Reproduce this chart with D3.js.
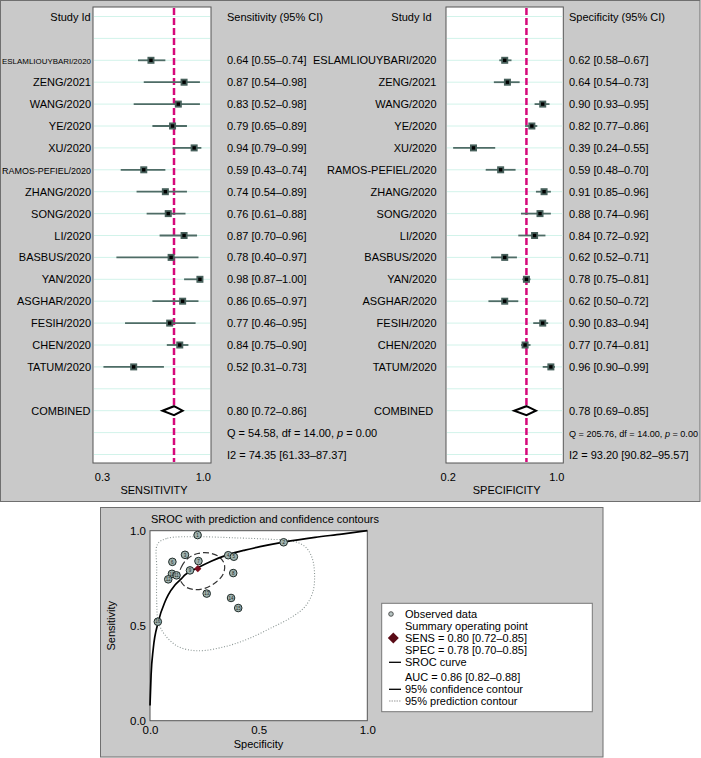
<!DOCTYPE html>
<html><head><meta charset="utf-8">
<script src="https://cdn.jsdelivr.net/npm/d3@7"></script>
<style>
body{margin:0;background:#fff}
svg{display:block;font-family:"Liberation Sans",Arial,Helvetica,sans-serif}
</style>
</head><body>
<svg id="c" width="701" height="758"></svg>
<script>
// ---------------- DATA ----------------
const studies = ["ESLAMLIOUYBARI/2020","ZENG/2021","WANG/2020","YE/2020","XU/2020","RAMOS-PEFIEL/2020","ZHANG/2020","SONG/2020","LI/2020","BASBUS/2020","YAN/2020","ASGHAR/2020","FESIH/2020","CHEN/2020","TATUM/2020"];
const sens   = [0.64,0.87,0.83,0.79,0.94,0.59,0.74,0.76,0.87,0.78,0.98,0.86,0.77,0.84,0.52];
const sensLo = [0.55,0.59,0.52,0.65,0.79,0.43,0.54,0.61,0.70,0.40,0.87,0.65,0.46,0.75,0.31];
const sensHi = [0.74,0.98,0.98,0.89,0.99,0.74,0.89,0.88,0.96,0.97,1.00,0.97,0.95,0.90,0.73];
const sensText = ["0.64 [0.55–0.74]","0.87 [0.54–0.98]","0.83 [0.52–0.98]","0.79 [0.65–0.89]","0.94 [0.79–0.99]","0.59 [0.43–0.74]","0.74 [0.54–0.89]","0.76 [0.61–0.88]","0.87 [0.70–0.96]","0.78 [0.40–0.97]","0.98 [0.87–1.00]","0.86 [0.65–0.97]","0.77 [0.46–0.95]","0.84 [0.75–0.90]","0.52 [0.31–0.73]"];
const spec   = [0.62,0.64,0.90,0.82,0.39,0.59,0.91,0.88,0.84,0.62,0.78,0.62,0.90,0.77,0.96];
const specLo = [0.58,0.54,0.84,0.77,0.24,0.48,0.85,0.74,0.72,0.52,0.75,0.50,0.83,0.74,0.90];
const specHi = [0.67,0.73,0.95,0.86,0.55,0.70,0.96,0.96,0.92,0.71,0.81,0.72,0.94,0.81,0.99];
const specText = ["0.62 [0.58–0.67]","0.64 [0.54–0.73]","0.90 [0.93–0.95]","0.82 [0.77–0.86]","0.39 [0.24–0.55]","0.59 [0.48–0.70]","0.91 [0.85–0.96]","0.88 [0.74–0.96]","0.84 [0.72–0.92]","0.62 [0.52–0.71]","0.78 [0.75–0.81]","0.62 [0.50–0.72]","0.90 [0.83–0.94]","0.77 [0.74–0.81]","0.96 [0.90–0.99]"];
const sensCombined = [0.80, 0.72, 0.86];
const specCombined = [0.78, 0.69, 0.85];
const sensQ = [54.58, 14.00, 0.00];
const specQ = [205.76, 14.00, 0.00];
const sensI2 = [74.35, 61.33, 87.37];
const specI2 = [93.20, 90.82, 95.57];
const sensTicks = [0.3, 1.0];
const specTicks = [0.2, 1.0];

// SROC observed points (1 - specificity, sensitivity)
const obsFpr  = [0.219,0.615,0.161,0.360,0.386,0.103,0.223,0.383,0.184,0.101,0.122,0.084,0.261,0.373,0.406,0.036];
const obsSens = [0.977,0.939,0.873,0.871,0.863,0.836,0.840,0.777,0.791,0.773,0.765,0.744,0.669,0.646,0.593,0.521];
const summaryPoint = [0.22, 0.80];
const curveFpr  = [0.0,0.005,0.015,0.038,0.069,0.084,0.115,0.146,0.161,0.215,0.284,0.36,0.437,0.506,0.615,0.759,0.882,1.0];
const curveSens = [0.08,0.24,0.38,0.52,0.626,0.662,0.714,0.749,0.767,0.802,0.841,0.874,0.898,0.916,0.940,0.965,0.982,1.0];
const confFpr  = [0.133,0.145,0.175,0.22,0.27,0.315,0.342,0.338,0.305,0.255,0.205,0.160];
const confSens = [0.760,0.810,0.855,0.880,0.883,0.865,0.825,0.775,0.730,0.698,0.690,0.708];
const predFpr  = [0.035,0.08,0.22,0.40,0.55,0.66,0.715,0.745,0.757,0.750,0.713,0.652,0.56,0.45,0.345,0.222,0.13,0.069,0.038,0.031,0.031];
const predSens = [0.93,0.960,0.968,0.962,0.955,0.945,0.915,0.86,0.78,0.68,0.600,0.545,0.49,0.43,0.39,0.368,0.39,0.451,0.521,0.62,0.80];
const srocTicks = [0, 0.5, 1.0];
const legendText = ["Observed data","Summary operating point","SENS = 0.80 [0.72–0.85]","SPEC = 0.78 [0.70–0.85]","SROC curve","AUC = 0.86 [0.82–0.88]","95% confidence contour","95% prediction contour"];

// ---------------- DRAW ----------------
const svg = d3.select("#c");
const GRAY = "#c9c9c9", FRAME = "#6f6f6f";
const f2 = d3.format(".2f");
const diamond = r => `M0,${-r}L${r},0L0,${r}L${-r},0Z`;

svg.append("rect").attr("x",0.5).attr("y",0.5).attr("width",699.5).attr("height",501)
  .attr("fill",GRAY).attr("stroke",FRAME);

const rowY = d3.scaleLinear().domain([0,20]).range([16.5,454.5]);

function fitText(sel, maxW, base) {
  sel.each(function(){
    const w = this.getComputedTextLength();
    if (w > maxW) d3.select(this).attr("font-size", (base*maxW/w).toFixed(2));
  });
}

function forest(o) {
  const g = svg.append("g");
  const x = d3.scaleLinear().domain(o.domain).range(o.range);
  g.append("rect").attr("x",o.x0).attr("y",o.y0).attr("width",o.x1-o.x0).attr("height",o.y1-o.y0)
    .attr("fill","#fff").attr("stroke","#555").attr("stroke-width",1);
  g.selectAll("line.grid").data(d3.range(0,21)).join("line")
    .attr("x1",o.x0+1).attr("x2",o.x1-1).attr("y1",d=>rowY(d)).attr("y2",d=>rowY(d))
    .attr("stroke","#d2f3ea").attr("stroke-width",1);
  g.append("line").attr("x1",x(o.comb[0])).attr("x2",x(o.comb[0]))
    .attr("y1",o.y0+1).attr("y2",o.y1-1)
    .attr("stroke","#d5087a").attr("stroke-width",2.5).attr("stroke-dasharray","7,3");
  const idx = d3.range(o.est.length);
  g.selectAll("line.ci").data(idx).join("line")
    .attr("x1",i=>x(o.lo[i])).attr("x2",i=>x(o.hi[i]))
    .attr("y1",i=>rowY(i+2)).attr("y2",i=>rowY(i+2))
    .attr("stroke","#4e6c66").attr("stroke-width",1.8);
  g.selectAll("rect.m").data(idx).join("rect")
    .attr("x",i=>x(o.est[i])-3.5).attr("y",i=>rowY(i+2)-3.5).attr("width",7).attr("height",7)
    .attr("fill","#47605b");
  g.selectAll("rect.mi").data(idx).join("rect")
    .attr("x",i=>x(o.est[i])-1.7).attr("y",i=>rowY(i+2)-1.7).attr("width",3.4).attr("height",3.4)
    .attr("fill","#000");
  const cy = rowY(18);
  g.append("path")
    .attr("d",`M${x(o.comb[1])},${cy}L${x(o.comb[0])},${cy-4.5}L${x(o.comb[2])},${cy}L${x(o.comb[0])},${cy+4.5}Z`)
    .attr("fill","#fff").attr("stroke","#000").attr("stroke-width",2);
  const fs = 11;
  g.append("text").attr("x",o.headerRight).attr("y",rowY(0)+4).attr("text-anchor","end")
    .attr("font-size",fs).text("Study Id");
  g.append("text").attr("x",o.valueX).attr("y",rowY(0)+4).attr("font-size",fs).text(o.header);
  const nm = g.selectAll("text.n").data(idx).join("text")
    .attr("x",o.nameRight).attr("y",i=>rowY(i+2)+4).attr("text-anchor","end")
    .attr("font-size",fs).text(i=>studies[i]);
  if (o.fitNames) fitText(nm, o.fitNames, fs);
  g.selectAll("text.v").data(idx).join("text")
    .attr("x",o.valueX).attr("y",i=>rowY(i+2)+4).attr("font-size",fs).text(i=>o.labels[i]);
  g.append("text").attr("x",o.combRight).attr("y",rowY(18)+4).attr("text-anchor","end")
    .attr("font-size",fs).text("COMBINED");
  g.append("text").attr("x",o.valueX).attr("y",rowY(18)+4).attr("font-size",fs)
    .text(`${f2(o.comb[0])} [${f2(o.comb[1])}–${f2(o.comb[2])}]`);
  const q = g.append("text").attr("x",o.valueX).attr("y",rowY(19)+4).attr("font-size",fs);
  q.append("tspan").text(`Q = ${f2(o.q[0])}, df = ${f2(o.q[1])}, `);
  q.append("tspan").attr("font-style","italic").text("p");
  q.append("tspan").text(` = ${f2(o.q[2])}`);
  if (o.fitQ) fitText(q, o.fitQ, fs);
  g.append("text").attr("x",o.valueX).attr("y",rowY(20)+4).attr("font-size",fs)
    .text(`I2 = ${f2(o.i2[0])} [${f2(o.i2[1])}–${f2(o.i2[2])}]`);
  const ax = g.append("g").attr("transform",`translate(0,${o.y1})`)
    .call(d3.axisBottom(x).tickValues(o.ticks).tickSize(0).tickPadding(10).tickFormat(d3.format(".1f")));
  ax.select(".domain").remove();
  ax.selectAll("text").attr("font-size",fs).attr("font-family",null).attr("fill","#000");
  g.append("text").attr("x",(o.x0+o.x1)/2+2).attr("y",494).attr("text-anchor","middle")
    .attr("font-size",fs).text(o.title);
}

forest({x0:93,x1:211,y0:7,y1:463,domain:[0.3,1.0],range:[102,202.8],
  est:sens,lo:sensLo,hi:sensHi,labels:sensText,comb:sensCombined,q:sensQ,i2:sensI2,
  ticks:sensTicks,header:"Sensitivity (95% CI)",title:"SENSITIVITY",
  headerRight:90.7,nameRight:91,combRight:90.5,valueX:227,fitNames:89});
forest({x0:446,x1:563.3,y0:7,y1:463,domain:[0.2,1.0],range:[447.7,556.3],
  est:spec,lo:specLo,hi:specHi,labels:specText,comb:specCombined,q:specQ,i2:specI2,
  ticks:specTicks,header:"Specificity (95% CI)",title:"SPECIFICITY",
  headerRight:431.7,nameRight:436.5,combRight:433.3,valueX:569,fitQ:129});

// ---------------- SROC panel ----------------
svg.append("rect").attr("x",100.5).attr("y",507.5).attr("width",502.5).attr("height",249.5)
  .attr("fill",GRAY).attr("stroke",FRAME);
const sx = d3.scaleLinear().domain([0,1]).range([150,367.3]);
const sy = d3.scaleLinear().domain([0,1]).range([720.7,530.7]);
const sg = svg.append("g");
sg.append("rect").attr("x",150).attr("y",530.7).attr("width",217.3).attr("height",190)
  .attr("fill","#fff").attr("stroke","#555");
sg.append("text").attr("x",265).attr("y",523).attr("text-anchor","middle").attr("font-size",11)
  .text("SROC with prediction and confidence contours");

const predPts = predFpr.map((v,i)=>[sx(v),sy(predSens[i])]);
sg.append("path").attr("d",d3.line().curve(d3.curveCatmullRomClosed)(predPts))
  .attr("fill","none").attr("stroke","#8a9593").attr("stroke-width",1.1).attr("stroke-dasharray","1,1.8");
const confPts = confFpr.map((v,i)=>[sx(v),sy(confSens[i])]);
sg.append("path").attr("d",d3.line().curve(d3.curveCatmullRomClosed)(confPts))
  .attr("fill","none").attr("stroke","#333").attr("stroke-width",1.2).attr("stroke-dasharray","6,3");
const curvePts = curveFpr.map((v,i)=>[sx(v),sy(curveSens[i])]);
sg.append("path").attr("d",d3.line().curve(d3.curveMonotoneX)(curvePts))
  .attr("fill","none").attr("stroke","#000").attr("stroke-width",1.7);

const oi = d3.range(obsFpr.length);
sg.selectAll("circle.o").data(oi).join("circle")
  .attr("cx",i=>sx(obsFpr[i])).attr("cy",i=>sy(obsSens[i])).attr("r",3.8)
  .attr("fill","#9fb2ae").attr("stroke","#1f2b29").attr("stroke-width",1);
sg.selectAll("text.o").data(oi).join("text")
  .attr("x",i=>sx(obsFpr[i])).attr("y",i=>sy(obsSens[i])+1.7).attr("text-anchor","middle")
  .attr("font-size",4.5).attr("fill","#1f2b29").text(i=>i+1);
sg.append("path").attr("d",diamond(3.6))
  .attr("transform",`translate(${sx(summaryPoint[0])},${sy(summaryPoint[1])})`)
  .attr("fill","#7a0f1f");

const xa = sg.append("g").attr("transform","translate(0,720.7)")
  .call(d3.axisBottom(sx).tickValues(srocTicks).tickSize(0).tickPadding(5).tickFormat(d3.format(".1f")));
xa.select(".domain").remove();
xa.selectAll("text").attr("font-size",11.5).attr("font-family",null).attr("fill","#000");
const ya = sg.append("g").attr("transform","translate(150,0)")
  .call(d3.axisLeft(sy).tickValues(srocTicks).tickSize(0).tickPadding(4).tickFormat(d3.format(".1f")));
ya.select(".domain").remove();
ya.selectAll("text").attr("font-size",11.5).attr("font-family",null).attr("fill","#000");
sg.append("text").attr("x",258.5).attr("y",748).attr("text-anchor","middle").attr("font-size",11).text("Specificity");
sg.append("text").attr("transform","translate(115,625.7) rotate(-90)").attr("text-anchor","middle")
  .attr("font-size",11).text("Sensitivity");

// legend
const lg = svg.append("g");
lg.append("rect").attr("x",381.7).attr("y",603.3).attr("width",210.6).attr("height",108.4)
  .attr("fill","#fff").attr("stroke","#777");
const legY = [614,626,638,650,662.3,677.3,689.3,701];
lg.selectAll("text").data(legendText).join("text")
  .attr("x",405).attr("y",(d,i)=>legY[i]+4).attr("font-size",11).text(d=>d);
lg.append("circle").attr("cx",391).attr("cy",legY[0]).attr("r",2.3)
  .attr("fill","#b7c4c2").attr("stroke","#333").attr("stroke-width",0.8);
lg.append("path").attr("d",diamond(5.5))
  .attr("transform",`translate(393.3,${legY[2]})`).attr("fill","#5a0b16");
lg.append("line").attr("x1",389).attr("x2",401).attr("y1",legY[4]).attr("y2",legY[4])
  .attr("stroke","#000").attr("stroke-width",1.3);
lg.append("line").attr("x1",389).attr("x2",401).attr("y1",legY[6]).attr("y2",legY[6])
  .attr("stroke","#000").attr("stroke-width",1.3);
lg.append("line").attr("x1",389).attr("x2",401).attr("y1",legY[7]).attr("y2",legY[7])
  .attr("stroke","#999").attr("stroke-width",1.1).attr("stroke-dasharray","1.5,1");
</script>
</body></html>
